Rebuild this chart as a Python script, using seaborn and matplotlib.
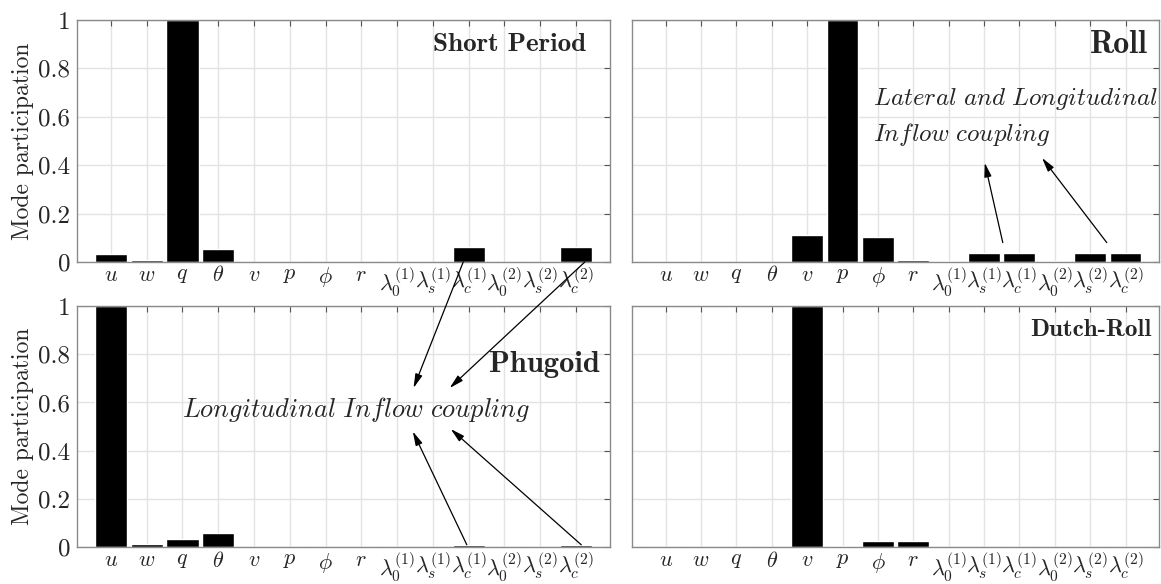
import numpy as np
import pandas as pd
import matplotlib.pyplot as plt
import seaborn as sns

# states of the model (x axis)
states = [r'$u$', r'$w$', r'$q$', r'$\theta$', r'$v$', r'$p$', r'$\phi$', r'$r$',
          r'$\lambda_0^{(1)}$', r'$\lambda_s^{(1)}$', r'$\lambda_c^{(1)}$',
          r'$\lambda_0^{(2)}$', r'$\lambda_s^{(2)}$', r'$\lambda_c^{(2)}$']

# mode participation
short_period = [0.032, 0.007, 1.0, 0.052, 0, 0, 0, 0, 0, 0, 0.06, 0, 0, 0.06]
roll = [0, 0, 0, 0, 0.113, 1.0, 0.105, 0.01, 0.005, 0.038, 0.038, 0.005, 0.038, 0.038]
phugoid = [1.0, 0.014, 0.032, 0.057, 0, 0, 0, 0, 0, 0.001, 0.008, 0, 0.001, 0.008]
dutch_roll = [0, 0, 0, 0, 1.0, 0.007, 0.025, 0.027, 0.001, 0.002, 0.002, 0.001, 0.002, 0.002]

yticks = [0, 0.2, 0.4, 0.6, 0.8, 1]
ytick_labels = ['0', '0.2', '0.4', '0.6', '0.8', '1']

sns.set_theme(style="white")
plt.rcParams['font.family'] = ['cmr10', 'DejaVu Serif']
plt.rcParams['mathtext.fontset'] = 'cm'
plt.rcParams['axes.formatter.use_mathtext'] = True

fig = plt.figure(figsize=(11.61, 5.84), dpi=100)
ax_tl = fig.add_axes([0.0663, 0.5514, 0.459, 0.4144])
ax_tr = fig.add_axes([0.5444, 0.5514, 0.454, 0.4144])
ax_bl = fig.add_axes([0.0663, 0.0630, 0.459, 0.4130])
ax_br = fig.add_axes([0.5444, 0.0630, 0.454, 0.4130])


def draw_mode(ax, values, title, tx, ty, tsize, left):
    df = pd.DataFrame({'state': states, 'participation': values})
    sns.barplot(data=df, x='state', y='participation', color='black',
                saturation=1, width=0.9, ax=ax)
    ax.set_xlim(-0.95, 13.95)
    ax.set_ylim(0, 1)
    ax.set_yticks(yticks)
    ax.set_xlabel('')
    if left:
        ax.set_yticklabels(ytick_labels)
        ax.set_ylabel('Mode participation', fontsize=17, labelpad=3)
    else:
        ax.set_yticklabels([])
        ax.set_ylabel('')
    ax.set_axisbelow(True)
    ax.grid(True, color='#e3e3e3', lw=1)
    ax.tick_params(direction='in', top=True, right=True, length=4, width=0.8,
                   color='#555555', pad=5)
    ax.tick_params(axis='y', labelsize=18)
    ax.tick_params(axis='x', labelsize=16, pad=2.5)
    for s in ax.spines.values():
        s.set_color('#8a8a8a')
        s.set_linewidth(1)
    ax.text(tx, ty, title, transform=ax.transAxes, ha='right', va='center',
            fontsize=tsize, fontfamily='cmb10')


draw_mode(ax_tl, short_period, 'Short Period', 0.955, 0.90, 19.5, True)
draw_mode(ax_tr, roll, 'Roll', 0.979, 0.90, 23, False)
draw_mode(ax_bl, phugoid, 'Phugoid', 0.981, 0.756, 22, True)
draw_mode(ax_br, dutch_roll, 'Dutch-Roll', 0.985, 0.90, 18, False)

arrow = dict(arrowstyle='-|>,head_width=0.18,head_length=0.7', color='black',
             lw=0.9, shrinkA=0, shrinkB=0)

# longitudinal inflow coupling (short period + phugoid)
ax_bl.text(6.85, 0.57, r'$\mathit{Longitudinal\ Inflow\ coupling}$',
           ha='center', va='center', fontsize=19)
ax_bl.annotate('', xy=(8.46, 0.66), xytext=(9.85, 0), textcoords=ax_tl.transData,
               arrowprops=arrow, annotation_clip=False)
ax_bl.annotate('', xy=(9.47, 0.66), xytext=(13.25, 0), textcoords=ax_tl.transData,
               arrowprops=arrow, annotation_clip=False)
ax_bl.annotate('', xy=(8.44, 0.48), xytext=(9.95, 0.01), arrowprops=arrow)
ax_bl.annotate('', xy=(9.5, 0.49), xytext=(13.15, 0.01), arrowprops=arrow)

# lateral and longitudinal inflow coupling (roll)
ax_tr.text(5.86, 0.60, '$\\mathit{Lateral\\ and\\ Longitudinal}$\n$\\mathit{Inflow\\ coupling}$',
           ha='left', va='center', fontsize=18, linespacing=1.45)
ax_tr.annotate('', xy=(9.02, 0.41), xytext=(9.53, 0.08), arrowprops=arrow)
ax_tr.annotate('', xy=(10.64, 0.43), xytext=(12.47, 0.08), arrowprops=arrow)

fig.savefig('out.png', dpi=100)
